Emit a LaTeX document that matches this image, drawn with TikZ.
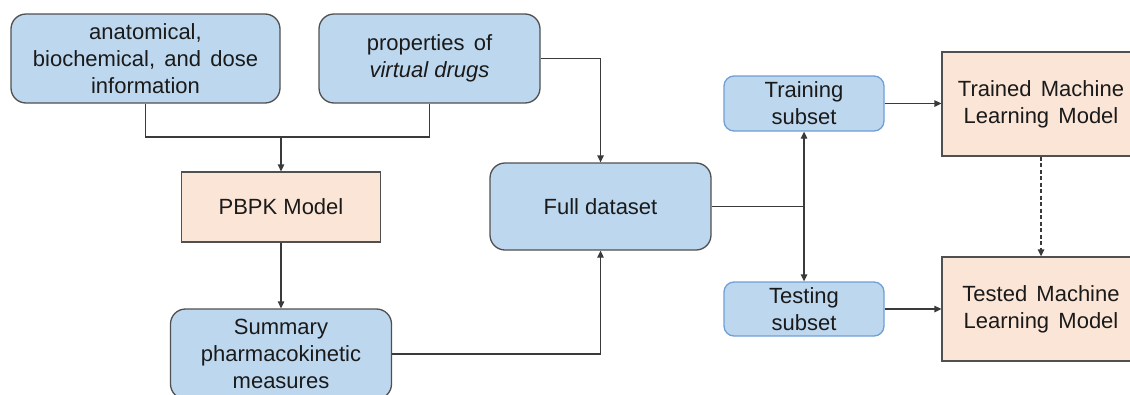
\documentclass[tikz,border=0pt]{standalone}
\usepackage{fontspec}
\setmainfont{Liberation Sans}
\usetikzlibrary{arrows.meta}
\definecolor{boxblue}{HTML}{BDD7EE}
\definecolor{boxsalmon}{HTML}{FBE5D6}
\definecolor{edgegray}{HTML}{505050}
\definecolor{edgeblue}{HTML}{6F9FD6}
\definecolor{linegray}{HTML}{3A3A3A}
\definecolor{txt}{HTML}{1A1A1A}
\newcommand{\wsp}{\hspace{0.42em}}
\tikzset{
  base/.style={align=center, text=txt, inner sep=0pt, line width=1.3pt,
    font=\fontsize{22}{27}\selectfont},
  bluebox/.style={base, fill=boxblue, draw=edgegray, rounded corners=15pt},
  smallblue/.style={base, fill=boxblue, draw=edgeblue, rounded corners=10pt},
  salmonbox/.style={base, fill=boxsalmon, draw=edgegray},
  conn/.style={draw=linegray, line width=1.3pt},
  arr/.style={conn, -{Triangle[length=7pt,width=6.5pt]}},
}
\begin{document}
\begin{tikzpicture}[x=1pt,y=-1pt]
\clip (0,0) rectangle (1130,394);
\fill[white] (0,0) rectangle (1130,394);
\node[bluebox, minimum width=269pt, minimum height=89pt] (A) at (145.5,58.5)
  {anatomical,\\biochemical,\wsp and\wsp dose\\information};
\node[bluebox, minimum width=221pt, minimum height=89pt] (B) at (429.5,58.5)
  {properties\wsp of\\\textit{virtual drugs}};
\node[salmonbox, minimum width=199pt, minimum height=70pt] (P) at (281,207)
  {PBPK Model};
\node[bluebox, minimum width=221pt, minimum height=90pt] (S) at (281,354)
  {Summary\\pharmacokinetic\\measures};
\node[bluebox, minimum width=221pt, minimum height=87pt] (F) at (600.5,206.5)
  {Full dataset};
\node[smallblue, minimum width=160pt, minimum height=55pt] (Tr) at (804,103.5)
  {Training\\subset};
\node[smallblue, minimum width=160pt, minimum height=54pt] (Te) at (804,309)
  {Testing\\subset};
\node[salmonbox, minimum width=198pt, minimum height=104pt] (TrM) at (1041,104)
  {Trained\wsp Machine\\Learning\wsp Model};
\node[salmonbox, minimum width=198pt, minimum height=104pt] (TeM) at (1041,309)
  {Tested\wsp Machine\\Learning\wsp Model};
\coordinate (j1) at (281,137);
\draw[conn] (A.south) |- (j1);
\draw[conn] (B.south) |- (j1);
\draw[arr] (j1) -- (P.north);
\draw[arr] (B.east) -| (F.north);
\draw[arr] (P.south) -- (S.north);
\draw[arr] (S.east) -| (F.south);
\coordinate (j2) at (Tr.south |- F.east);
\draw[conn] (F.east) -- (j2);
\draw[arr] (j2) -- (Tr.south);
\draw[arr] (j2) -- (Te.north);
\draw[arr] (Tr.east) -- (Tr.east -| TrM.west);
\draw[arr] (Te.east) -- (Te.east -| TeM.west);
\draw[arr, dashed, dash pattern=on 4pt off 2.5pt] (TrM.south) -- (TeM.north);
\end{tikzpicture}
\end{document}
